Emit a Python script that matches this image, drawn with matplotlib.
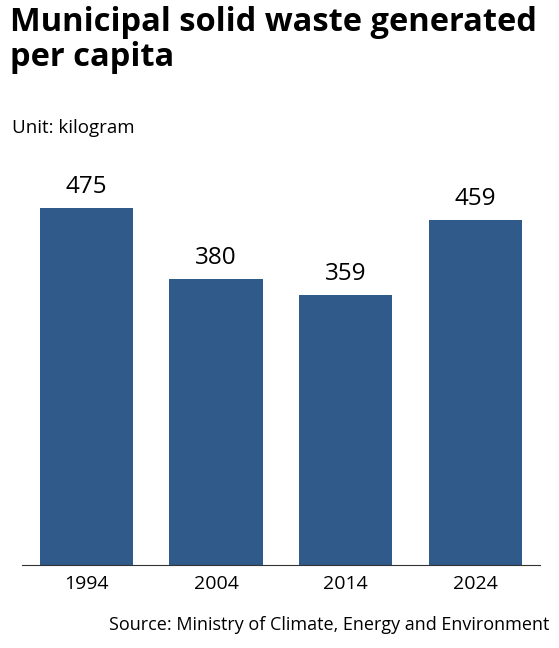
import matplotlib
matplotlib.use("Agg")
import matplotlib.pyplot as plt

years = ["1994", "2004", "2014", "2024"]
values = [475, 380, 359, 459]

plt.rcParams['font.family'] = ['Open Sans', 'DejaVu Sans']
fig = plt.figure(figsize=(5.59, 6.48), dpi=100)
ax = fig.add_axes([0.039, 0.128, 0.927, 0.638])
x = range(len(years))
bars = ax.bar(x, values, width=0.72, color="#2f5a8a")
for xi, v in zip(x, values):
    ax.text(xi, v + 12, str(v), ha="center", va="bottom", fontsize=17.5)
ax.set_xlim(-0.5, 3.5)
ax.set_ylim(0, 550)
ax.set_xticks(list(x))
ax.set_xticklabels(years, fontsize=14)
ax.tick_params(axis="x", length=0, pad=7)
ax.set_yticks([])
for s in ["top", "right", "left"]:
    ax.spines[s].set_visible(False)
ax.spines["bottom"].set_color("#333333")

fig.text(0.018, 0.99, "Municipal solid waste generated\nper capita", ha="left", va="top",
         fontsize=23.5, fontweight="bold", linespacing=1.08)
fig.text(0.021, 0.802, "Unit: kilogram", ha="left", va="center", fontsize=13.5)
fig.text(0.982, 0.035, "Source: Ministry of Climate, Energy and Environment", ha="right",
         va="center", fontsize=13)
fig.savefig("out.png", dpi=100)
